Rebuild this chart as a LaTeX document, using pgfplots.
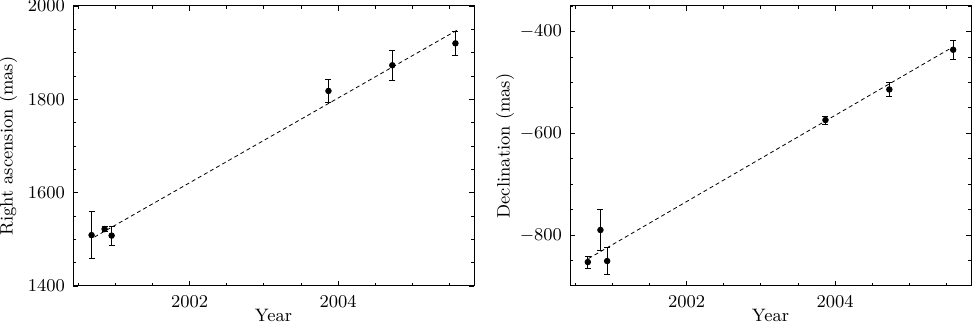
\documentclass[border=0pt]{standalone}
\usepackage{pgfplots}
\pgfplotsset{compat=1.18}
\pgfplotstableread{
x y e
2000.68 1509 50
2000.855 1522 5
2000.95 1508 20
2003.87 1818 24
2004.73 1873 32
2005.58 1920 26
}\radata
\pgfplotstableread{
x y e
2000.67 -853 12
2000.84 -790 40
2000.93 -851 26
2003.87 -574 8
2004.73 -514 13
2005.59 -436 18
}\decdata
\begin{document}
\begin{tikzpicture}
\useasboundingbox (0pt,0pt) rectangle (486pt,162pt);
\pgfplotsset{
  myax/.style={
    scale only axis, width=200.5pt, height=140pt,
    anchor=south west,
    axis line style={line width=0.5pt},
    every tick/.style={line width=0.4pt, black},
    tick align=inside,
    major tick length=2.5pt, minor tick length=1.5pt,
    xmin=2000.43, xmax=2005.83,
    xtick={2002,2004},
    minor xtick={2000.5,2001,2001.5,2002.5,2003,2003.5,2004.5,2005,2005.5},
    xticklabel style={/pgf/number format/1000 sep={}, yshift=-1.5pt},
    yticklabel style={/pgf/number format/1000 sep={}, xshift=-0.5pt},
    font=\fontsize{9}{10}\selectfont,
    xlabel={Year},
    xlabel style={at={(axis description cs:0.5,-0.107)}, anchor=center},
    ylabel style={at={(axis description cs:-0.162,0.5)}, anchor=center},
  },
  pts/.style={black, only marks, mark=*, mark size=1.4pt,
    error bars/.cd, y dir=both, y explicit,
    error bar style={line width=0.4pt, black},
    error mark options={rotate=90, mark size=1.5pt, line width=0.4pt, black}},
  fit/.style={black, line width=0.4pt, dash pattern=on 2pt off 1.5pt},
}
\begin{axis}[myax, at={(36.5pt,19pt)},
  ymin=1400, ymax=2000, ytick={1400,1600,1800,2000},
  minor ytick={1450,1500,1550,1650,1700,1750,1850,1900,1950},
  ylabel={Right ascension (mas)}]
\addplot[fit] coordinates {(2000.72,1505) (2005.6,1948)};
\addplot[pts] table[x=x, y=y, y error=e] {\radata};
\end{axis}
\begin{axis}[myax, at={(285pt,19pt)},
  ymin=-900, ymax=-350, ytick={-800,-600,-400},
  minor ytick={-850,-750,-700,-650,-550,-500,-450,-350},
  ylabel={Declination (mas)}]
\addplot[fit] coordinates {(2000.68,-846) (2005.58,-431)};
\addplot[pts] table[x=x, y=y, y error=e] {\decdata};
\end{axis}
\end{tikzpicture}
\end{document}
